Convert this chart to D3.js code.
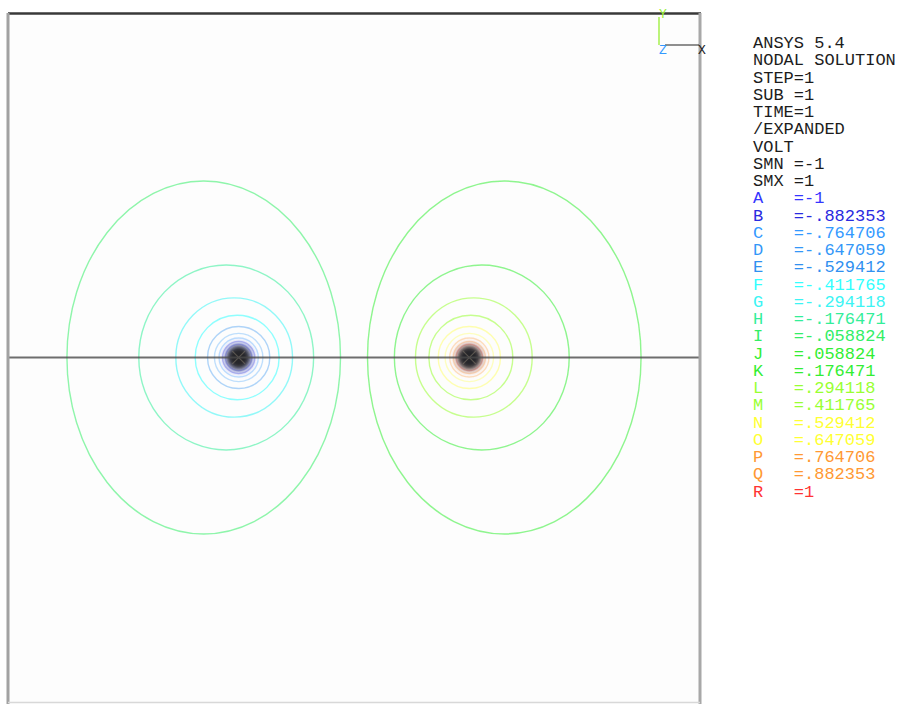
<!DOCTYPE html>
<html>
<head>
<meta charset="utf-8">
<script src="https://cdn.jsdelivr.net/npm/d3@7"></script>
<style>
  html, body { margin: 0; padding: 0; background: #ffffff; }
  svg { display: block; }
  text { font-family: "Liberation Mono", "DejaVu Sans Mono", monospace; }
</style>
</head>
<body>
<svg id="chart" width="899" height="704"></svg>
<script>
// Header lines of the result listing
const headerLines = ["ANSYS 5.4", "NODAL SOLUTION", "STEP=1", "SUB =1", "TIME=1", "/EXPANDED", "VOLT", "SMN =-1", "SMX =1"];

// Contour levels (VOLT)
const levelNames  = ["A","B","C","D","E","F","G","H","I","J","K","L","M","N","O","P","Q","R"];
const levelValues = [-1, -0.882353, -0.764706, -0.647059, -0.529412, -0.411765, -0.294118, -0.176471, -0.058824,
                      0.058824, 0.176471, 0.294118, 0.411765, 0.529412, 0.647059, 0.764706, 0.882353, 1];
const levelColors = ["#3535ff","#2a2ae0","#3399ff","#3397f8","#3090f0","#33ffff","#3cf4f4","#33ee99","#33ee66",
                     "#33ee33","#33ee33","#99ff33","#99ff33","#ffff33","#ffff33","#ff9933","#ff9933","#ff3333"];

// Contour loops in model units (box is -3..3 in both directions, charges at x = -1 and x = +1)
const contourCenterX = [-1.0, -1.0, -1.0, -1.0, -1.0, -1.013, -1.039, -1.108, -1.303,
                         1.303, 1.108, 1.039, 1.013, 1.0, 1.0, 1.0, 1.0, 1.0];
const contourRadiusX = [0.115, 0.14, 0.17, 0.21, 0.27, 0.364, 0.506, 0.758, 1.186,
                        1.186, 0.758, 0.506, 0.364, 0.27, 0.21, 0.17, 0.14, 0.115];
const contourRadiusY = [0.115, 0.14, 0.17, 0.21, 0.27, 0.368, 0.519, 0.805, 1.537,
                        1.537, 0.805, 0.519, 0.368, 0.27, 0.21, 0.17, 0.14, 0.115];

// Line charges (meshed cores)
const sourceX = [-1, 1];
const sourceRadius = 0.1;

const modelDomain = [-3, 3];

const svg = d3.select("#chart");

const x = d3.scaleLinear().domain(modelDomain).range([8, 700]);
const y = d3.scaleLinear().domain(modelDomain).range([702, 13]);

const defs = svg.append("defs");
defs.append("filter").attr("id", "soft").attr("x", "-50%").attr("y", "-50%").attr("width", "200%").attr("height", "200%")
  .append("feGaussianBlur").attr("stdDeviation", 2.4);
defs.append("filter").attr("id", "softLine")
  .append("feGaussianBlur").attr("stdDeviation", 0.4);

// Plot area
svg.append("rect")
  .attr("x", x(-3)).attr("y", y(3))
  .attr("width", x(3) - x(-3)).attr("height", y(-3) - y(3))
  .attr("fill", "#fdfdfd");

// Contour loops
const contours = levelValues.map((v, i) => ({
  name: levelNames[i], value: v, color: levelColors[i],
  cx: contourCenterX[i], rx: contourRadiusX[i], ry: contourRadiusY[i]
}));

const ringOpacity = d => {
  const a = Math.abs(d.value);
  if (a > 0.6) return 0.3;
  if (a > 0.45) return 0.38;
  return 0.55;
};

svg.append("g").attr("filter", "url(#softLine)")
  .selectAll("ellipse")
  .data(contours)
  .join("ellipse")
  .attr("cx", d => x(d.cx))
  .attr("cy", y(0))
  .attr("rx", d => x(d.rx) - x(0))
  .attr("ry", d => y(0) - y(d.ry))
  .attr("fill", "none")
  .attr("stroke", d => d.color)
  .attr("stroke-opacity", ringOpacity)
  .attr("stroke-width", 1.4);

// Dense mesh around each charge
const cores = svg.append("g");
cores.selectAll("circle.halo")
  .data(sourceX)
  .join("circle")
  .attr("class", "halo")
  .attr("cx", d => x(d)).attr("cy", y(0))
  .attr("r", (x(sourceRadius) - x(0)) * 1.4)
  .attr("fill", (d, i) => i === 0 ? "#6a7cf0" : "#eaa088")
  .attr("opacity", 0.4)
  .attr("filter", "url(#soft)");
cores.selectAll("circle.core")
  .data(sourceX)
  .join("circle")
  .attr("class", "core")
  .attr("cx", d => x(d)).attr("cy", y(0))
  .attr("r", x(sourceRadius) - x(0))
  .attr("fill", "#25252b")
  .attr("filter", "url(#soft)");
cores.selectAll("path.mesh")
  .data(sourceX)
  .join("path")
  .attr("class", "mesh")
  .attr("d", d => {
    const r = (x(sourceRadius) - x(0)) * 0.55, cx = x(d), cy = y(0);
    return `M${cx - r},${cy - r}L${cx + r},${cy + r}M${cx - r},${cy + r}L${cx + r},${cy - r}`;
  })
  .attr("stroke", "#8a8070").attr("stroke-width", 1.2).attr("opacity", 0.5)
  .attr("filter", "url(#softLine)");

// Symmetry line through both charges
svg.append("line")
  .attr("x1", x(-3)).attr("x2", x(3))
  .attr("y1", y(0)).attr("y2", y(0))
  .attr("stroke", "#4a4a4a").attr("stroke-width", 2).attr("stroke-opacity", 0.8);

// Window frame
svg.append("line").attr("x1", x(-3)).attr("x2", x(3) + 1).attr("y1", y(3) + 0.5).attr("y2", y(3) + 0.5)
  .attr("stroke", "#383838").attr("stroke-width", 2.5);
svg.append("line").attr("x1", x(-3)).attr("x2", x(-3)).attr("y1", y(3)).attr("y2", 704)
  .attr("stroke", "#a2a2a2").attr("stroke-width", 3);
svg.append("line").attr("x1", x(3)).attr("x2", x(3)).attr("y1", y(3)).attr("y2", 704)
  .attr("stroke", "#a8a8a8").attr("stroke-width", 3);
svg.append("line").attr("x1", x(-3)).attr("x2", x(3)).attr("y1", y(-3) + 0.5).attr("y2", y(-3) + 0.5)
  .attr("stroke", "#d8d8d8").attr("stroke-width", 1.5);

// Axis triad
const triad = svg.append("g").attr("transform", "translate(659,45)");
triad.append("line").attr("x1", 0).attr("x2", 0).attr("y1", 0).attr("y2", -28)
  .attr("stroke", "#99ee33").attr("stroke-width", 1.3);
triad.append("line").attr("x1", 6).attr("x2", 40).attr("y1", 0).attr("y2", 0)
  .attr("stroke", "#222").attr("stroke-width", 1.2);
triad.append("text").attr("x", 4).attr("y", -27).attr("text-anchor", "middle")
  .attr("font-size", 13).attr("fill", "#99ee33").text("Y");
triad.append("text").attr("x", 4).attr("y", 9).attr("text-anchor", "middle")
  .attr("font-size", 13).attr("fill", "#3399ff").text("Z");
triad.append("text").attr("x", 43).attr("y", 9).attr("text-anchor", "middle")
  .attr("font-size", 13).attr("fill", "#222").text("X");

// Listing and contour legend
const fmt = v => {
  if (Number.isInteger(v)) return String(v);
  const s = v.toFixed(6).replace(/0+$/, "");
  return s.replace(/^(-?)0\./, "$1.");
};
const lineStep = 17.25;
const legend = svg.append("g").attr("transform", "translate(753,48)");
legend.selectAll("text.hdr")
  .data(headerLines)
  .join("text")
  .attr("class", "hdr")
  .attr("x", 0).attr("y", (d, i) => i * lineStep)
  .attr("font-size", 17).attr("fill", "#1c1c1c")
  .attr("xml:space", "preserve").style("white-space", "pre")
  .text(d => d);
legend.selectAll("text.lvl")
  .data(contours)
  .join("text")
  .attr("class", "lvl")
  .attr("x", 0).attr("y", (d, i) => (headerLines.length + i) * lineStep)
  .attr("font-size", 17).attr("fill", d => d.color)
  .attr("xml:space", "preserve").style("white-space", "pre")
  .text(d => `${d.name}   =${fmt(d.value)}`);
</script>
</body>
</html>
